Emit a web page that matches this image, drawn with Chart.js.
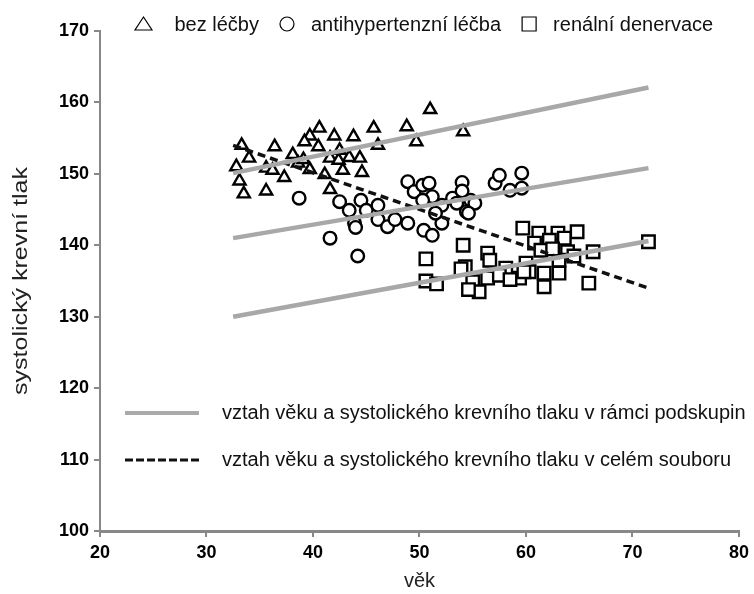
<!DOCTYPE html>
<html lang="cs">
<head>
<meta charset="UTF-8">
<title>Věk a systolický krevní tlak</title>
<script src="https://cdn.jsdelivr.net/npm/chart.js@4.4.0/dist/chart.umd.min.js"></script>
<style>
    body { margin: 0; background: #fff; }
    #wrap { width: 754px; height: 594px; }
</style>
</head>
<body>
<div id="wrap"><canvas id="chart"></canvas></div>
<script>
// bez léčby (triangles)
const bezAge = [33.3, 36.4, 34.0, 32.8, 35.6, 36.2, 37.3, 33.1, 33.5, 35.6,
    40.6, 45.7, 48.8, 54.1, 39.7, 42.0, 43.8, 46.1, 49.7, 39.2,
    40.5, 42.5, 43.4, 44.4, 41.6, 42.4, 39.7, 41.1, 42.8, 41.6,
    38.1, 51.0, 38.6, 39.1, 44.6];
const bezBP = [154.0, 153.8, 152.2, 151.0, 150.8, 150.5, 149.5, 149.0, 147.2, 147.6,
    156.4, 156.4, 156.6, 155.9, 155.3, 155.3, 155.2, 154.0, 154.5, 154.5,
    153.8, 153.3, 152.3, 152.2, 152.2, 151.9, 150.6, 149.9, 150.5, 147.8,
    152.7, 159.0, 151.5, 152.0, 150.2];

// antihypertenzní léčba (circles)
const antiAge = [38.7, 41.6, 42.5, 44.5, 43.4, 45.0, 46.1, 43.9, 46.1, 47.0,
    47.7, 48.9, 48.9, 49.5, 50.3, 50.9, 51.2, 50.3, 50.4, 51.2,
    52.1, 52.1, 53.1, 54.0, 54.0, 54.8, 54.4, 57.1, 57.5, 58.5,
    44.2, 53.5, 55.2, 54.6, 59.6, 59.6, 44.0, 51.5];
const antiBP = [146.6, 141.0, 146.1, 146.3, 144.9, 144.9, 145.6, 143.1, 143.6, 142.6,
    143.6, 143.1, 148.9, 147.5, 148.4, 148.7, 146.8, 146.3, 142.1, 141.4,
    143.1, 145.6, 146.6, 148.8, 147.6, 146.3, 144.7, 148.7, 149.8, 147.7,
    138.5, 145.9, 145.9, 144.5, 150.1, 148.0, 142.5, 144.5];

// renální denervace (squares)
const renAge = [54.1, 59.7, 61.2, 63.0, 64.8, 63.6, 62.2, 60.8, 66.3, 71.5,
    56.4, 56.6, 54.3, 58.1, 60.0, 61.4, 63.9, 63.1, 60.3, 61.7,
    63.1, 59.4, 56.4, 55.0, 55.6, 61.7, 65.9, 59.8, 50.6, 50.6,
    51.6, 53.9, 54.6, 57.5, 62.5, 64.5, 58.5];
const renBP = [140.0, 142.4, 141.7, 141.7, 141.9, 141.0, 140.7, 140.3, 139.1, 140.5,
    138.9, 137.9, 137.0, 136.8, 137.5, 139.3, 139.1, 137.9, 136.3, 136.1,
    136.1, 135.4, 135.4, 134.9, 133.5, 134.2, 134.7, 136.3, 138.1, 135.0,
    134.6, 136.7, 133.8, 135.8, 139.5, 138.5, 135.2];

// regression lines (start / end)
const fitAge = [32.5, 71.5];
const fitBez = [150.1, 162.1];
const fitAnti = [141.0, 150.8];
const fitRen = [130.0, 140.6];
const fitAll = [154.0, 134.0];

const groupLabels = ['bez léčby', 'antihypertenzní léčba', 'renální denervace'];
const lineLabels = ['vztah věku a systolického krevního tlaku v rámci podskupin',
    'vztah věku a systolického krevního tlaku v celém souboru'];
const yTitle = 'systolický krevní tlak';

const FONT = '"Liberation Sans", Arial, sans-serif';
const pts = (xs, ys) => xs.map((x, i) => ({ x: x, y: ys[i] }));

function markerSet(label, xs, ys, style, r) {
    return {
        type: 'scatter', label: label, data: pts(xs, ys),
        pointStyle: style, pointRadius: r, pointHoverRadius: r,
        backgroundColor: '#fff', borderColor: '#000', borderWidth: 2.4, order: 2
    };
}
function fitSet(label, ys, color, width, dash) {
    return {
        type: 'line', label: label, data: pts(fitAge, ys),
        borderColor: color, borderWidth: width, borderDash: dash || [],
        pointRadius: 0, fill: false, order: 0
    };
}

// legends + stretched y title, drawn by hand
const legendPlugin = {
    id: 'legends',
    afterDraw(chart) {
        const ctx = chart.ctx;
        ctx.save();
        ctx.font = '20px ' + FONT;
        ctx.textBaseline = 'alphabetic';
        ctx.textAlign = 'left';
        ctx.lineWidth = 1.2;
        ctx.strokeStyle = '#000';

        let x = 143.5;
        const y = 24;
        groupLabels.forEach((lab, i) => {
            ctx.fillStyle = '#fff';
            ctx.beginPath();
            if (i === 0) {
                ctx.moveTo(x, y - 7); ctx.lineTo(x + 8.5, y + 6); ctx.lineTo(x - 8.5, y + 6); ctx.closePath();
            } else if (i === 1) {
                ctx.arc(x, y, 7, 0, Math.PI * 2);
            } else {
                ctx.rect(x - 7, y - 7, 14, 14);
            }
            ctx.fill();
            ctx.stroke();
            ctx.fillStyle = '#111';
            const tx = x + (i === 0 ? 31 : 24);
            ctx.fillText(lab, tx, 31);
            x = tx + ctx.measureText(lab).width + 28;
        });

        // line legend inside the plot
        const rows = [413, 460];
        ctx.lineWidth = 4;
        ctx.strokeStyle = '#aaa';
        ctx.beginPath(); ctx.moveTo(125, rows[0]); ctx.lineTo(199, rows[0]); ctx.stroke();
        ctx.lineWidth = 3;
        ctx.strokeStyle = '#111';
        ctx.setLineDash([8, 3]);
        ctx.beginPath(); ctx.moveTo(125, rows[1]); ctx.lineTo(199, rows[1]); ctx.stroke();
        ctx.setLineDash([]);
        ctx.fillStyle = '#111';
        ctx.textBaseline = 'middle';
        ctx.fillText(lineLabels[0], 222, rows[0]);
        ctx.fillText(lineLabels[1], 222, rows[1]);

        // y axis title, a bit stretched along its length like the original
        const area = chart.chartArea;
        ctx.fillStyle = '#222';
        ctx.textAlign = 'center';
        ctx.translate(21, (area.top + area.bottom) / 2);
        ctx.rotate(-Math.PI / 2);
        const w = ctx.measureText(yTitle).width;
        ctx.scale(228 / w, 1);
        ctx.fillText(yTitle, 0, 0);
        ctx.restore();
    }
};

new Chart(document.getElementById('chart'), {
    data: {
        datasets: [
            fitSet('fit bez', fitBez, '#a8a8a8', 4.5),
            fitSet('fit anti', fitAnti, '#a8a8a8', 4.5),
            fitSet('fit ren', fitRen, '#a8a8a8', 4.5),
            fitSet('fit all', fitAll, '#111', 3.5, [8, 5]),
            markerSet(groupLabels[0], bezAge, bezBP, 'triangle', 7),
            markerSet(groupLabels[1], antiAge, antiBP, 'circle', 6.3),
            markerSet(groupLabels[2], renAge, renBP, 'rect', 8.8)
        ]
    },
    options: {
        responsive: true,
        maintainAspectRatio: false,
        animation: false,
        layout: { padding: { top: 31, right: 14, left: 0, bottom: 0 } },
        plugins: { legend: { display: false }, tooltip: { enabled: false } },
        scales: {
            x: {
                type: 'linear', min: 20, max: 80,
                ticks: { stepSize: 10, color: '#000', padding: 5,
                    font: { family: FONT, size: 18, weight: 'bold' } },
                grid: { drawOnChartArea: false, tickLength: 6, color: '#888', lineWidth: 2 },
                border: { color: '#888', width: 3 },
                title: { display: true, text: 'věk', color: '#222', padding: { top: 0, bottom: 1 },
                    font: { family: FONT, size: 20 } },
                afterFit(s) { s.height = 63; }
            },
            y: {
                type: 'linear', min: 100, max: 170,
                ticks: { stepSize: 10, color: '#000', padding: 5,
                    font: { family: FONT, size: 18, weight: 'bold' } },
                grid: { drawOnChartArea: false, tickLength: 6, color: '#888', lineWidth: 2 },
                border: { color: '#888', width: 2 },
                afterFit(s) { s.width = 100; }
            }
        }
    },
    plugins: [legendPlugin]
});
</script>
</body>
</html>
